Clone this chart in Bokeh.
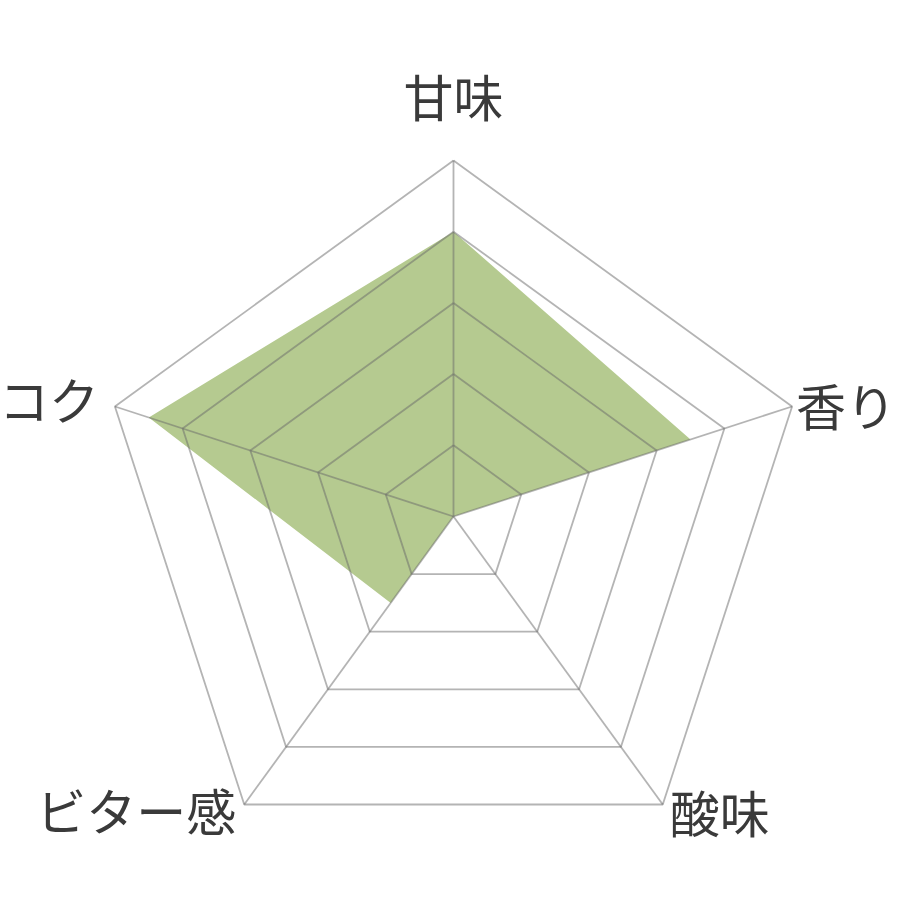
import numpy as np
from bokeh.plotting import figure
from bokeh.models import Range1d, ColumnDataSource
from bokeh.core.properties import value
from bokeh.embed import file_html
from bokeh.resources import INLINE

categories = ["甘味", "香り", "酸味", "ビター感", "コク"]
values = [4, 3.5, 0, 1.5, 4.5]
max_value = 5
levels = [1, 2, 3, 4, 5]

W, H = 904, 904
CX, CY = 453, 516   # centre in figure pixels
R = 356             # outer radius in pixels

p = figure(width=W, height=H, output_backend="svg", toolbar_location=None,
           x_axis_location=None, y_axis_location=None, min_border=0,
           x_range=Range1d(-CX / R, (W - CX) / R),
           y_range=Range1d(-(H - CY) / R, CY / R))
p.outline_line_color = None
p.grid.visible = False
p.background_fill_color = "white"
p.border_fill_color = "white"

n = len(categories)
ang = np.pi / 2 - 2 * np.pi * np.arange(n) / n
ux, uy = np.cos(ang), np.sin(ang)

# data polygon
r = np.array(values) / max_value
p.patch(list(r * ux), list(r * uy), fill_color="#b5ca90", line_color=None)

# grid rings
grid_col = "#6a6a6a"
for lv in levels:
    f = lv / max_value
    xs = list(f * ux) + [f * ux[0]]
    ys = list(f * uy) + [f * uy[0]]
    p.line(xs, ys, line_color=grid_col, line_alpha=0.5, line_width=1.8)
# spokes
for i in range(n):
    p.line([0, ux[i]], [0, uy[i]], line_color=grid_col, line_alpha=0.5, line_width=1.8)

# labels
aligns = ["center", "left", "left", "right", "right"]
xoff = [0, 4, 7, -8, -16]
yoff = [-66, -2, 6, 4, -8]
src = ColumnDataSource(dict(x=list(ux), y=list(uy), t=categories, a=aligns,
                            xo=xoff, yo=yoff))
p.text("x", "y", text="t", source=src, text_align="a", text_baseline="middle",
       x_offset="xo", y_offset="yo",
       text_font=value("Noto Sans CJK JP"), text_font_size="50px",
       text_color="#3a3a3a")

open("out.html", "w").write(file_html(p, INLINE))
